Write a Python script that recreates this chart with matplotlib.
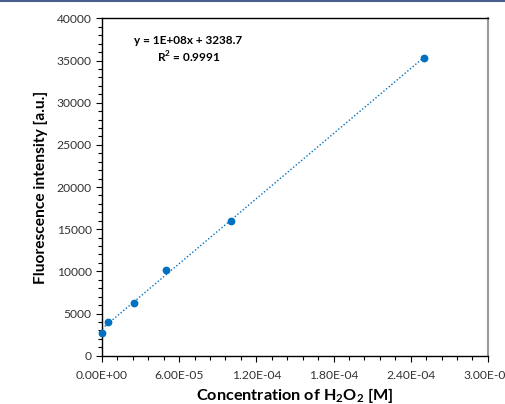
import numpy as np
import matplotlib.pyplot as plt
from matplotlib.ticker import MultipleLocator, FuncFormatter
from matplotlib.lines import Line2D

# H2O2 calibration data
conc = [0.0, 5e-6, 2.5e-5, 5e-5, 1e-4, 2.5e-4]
intensity = [2700, 4050, 6280, 10170, 16010, 35250]
eq_text = "y = 1E+08x + 3238.7"
r2_text = "R$^\\mathbf{2}$ = 0.9991"

plt.rcParams['font.family'] = ['Lato', 'DejaVu Sans']
plt.rcParams['mathtext.fontset'] = 'custom'
plt.rcParams['mathtext.rm'] = 'Lato'
plt.rcParams['mathtext.bf'] = 'Lato:bold'

blue = '#0070C0'
fig = plt.figure(figsize=(5.05, 4.04), dpi=100)
ax = fig.add_axes([0.202, 0.1196, 0.764, 0.835])

# trendline
k, b = np.polyfit(conc, intensity, 1)
xs = np.array([conc[0], conc[-1]])
ax.plot(xs, k * xs + b, linestyle=(0, (1, 1.5)), color=blue, lw=1.0, zorder=2)
ax.scatter(conc, intensity, s=21, color=blue, zorder=3, clip_on=False)

ax.set_xlim(0, 3e-4)
ax.set_ylim(0, 40000)
ax.xaxis.set_major_locator(MultipleLocator(6e-5))
ax.xaxis.set_minor_locator(MultipleLocator(1.2e-5))
ax.yaxis.set_major_locator(MultipleLocator(5000))
ax.yaxis.set_minor_locator(MultipleLocator(1000))
ax.xaxis.set_major_formatter(FuncFormatter(lambda v, p: "%.2E" % v))
ax.tick_params(which='both', direction='out', labelsize=8.7, colors='black')
ax.tick_params(which='major', length=4, width=0.8)
ax.tick_params(which='minor', length=3, width=0.8)
ax.tick_params(axis='x', pad=6)
for lab in ax.get_xticklabels() + ax.get_yticklabels():
    lab.set_color('#333333')

ax.spines['right'].set_color('#999999')
ax.spines['right'].set_linewidth(1.5)
for s in ['left', 'bottom', 'top']:
    ax.spines[s].set_linewidth(1.0)

ax.set_xlabel("Concentration of H$_\\mathbf{2}$O$_\\mathbf{2}$ [M]", fontsize=11.7, fontweight='bold', labelpad=4)
ax.set_ylabel("Fluorescence intensity [a.u.]", fontsize=11.2, fontweight='bold', labelpad=6)

fig.text(0.373, 0.9, eq_text, ha='center', va='center', fontsize=8.5, fontweight='bold')
fig.text(0.373, 0.858, r2_text, ha='center', va='center', fontsize=8.5, fontweight='bold')

# thin navy border along top of the image
fig.add_artist(Line2D([0, 1], [0.997, 0.997], transform=fig.transFigure, color='#4A5E8C', lw=1.5))

fig.savefig('out.png', dpi=100)
